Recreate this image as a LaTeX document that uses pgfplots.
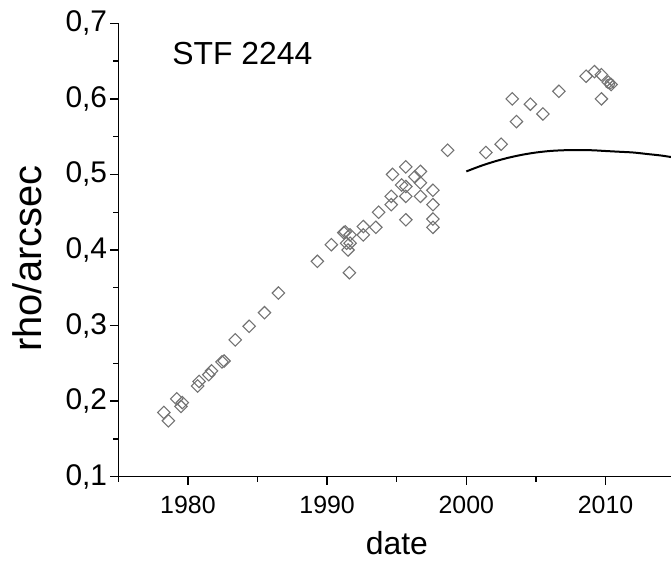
\documentclass[border=0pt]{standalone}
\usepackage{fontspec}
\setmainfont{Liberation Sans}
\usepackage{pgfplots}
\pgfplotsset{compat=1.18}
\begin{document}
\begin{tikzpicture}
\begin{axis}[
  scale only axis,
  width=552.7bp, height=453.4bp,
  xmin=1975, xmax=2014.7, ymin=0.1, ymax=0.7,
  axis x line=bottom, axis y line=left,
  axis line style={-, line width=1.3bp},
  every tick/.style={black, line width=1.3bp},
  tick align=outside,
  major tick length=8bp, minor tick length=5bp,
  xtick={1980,1990,2000,2010},
  minor xtick={1975,1985,1995,2005},
  ytick={0.1,0.2,0.3,0.4,0.5,0.6,0.7},
  minor ytick={0.15,0.25,0.35,0.45,0.55,0.65},
  /pgf/number format/assume math mode=true,
  tick label style={font=\fontsize{25}{25}\selectfont, inner sep=0pt},
  x tick label style={/pgf/number format/1000 sep={}, anchor=north, yshift=-11bp},
  yticklabels={0{,}1,0{,}2,0{,}3,0{,}4,0{,}5,0{,}6,0{,}7},
  y tick label style={font=\fontsize{30}{30}\selectfont, anchor=east, xshift=-3bp},
  xlabel={date},
  ylabel={rho/arcsec},
  xlabel style={font=\fontsize{32}{32}\selectfont, inner sep=0pt, at={(axis description cs:0.504,-0.172)}, anchor=base},
  ylabel style={font=\fontsize{40}{40}\selectfont, inner sep=0pt, at={(axis description cs:-0.138,0.481)}, anchor=south, rotate=0},
  clip=true,
]
\addplot[only marks, mark=square, mark size=4.4bp, color=black!55,
  every mark/.append style={rotate=45, line width=1.1bp}] coordinates {
(1978.27,0.185) (1978.6,0.174) (1979.2,0.203) (1979.5,0.193) (1979.6,0.198)
(1980.7,0.220) (1980.8,0.226) (1981.5,0.235) (1981.7,0.240) (1982.45,0.252) (1982.6,0.253)
(1983.4,0.281) (1984.4,0.299) (1985.5,0.317) (1986.5,0.343) (1989.3,0.385) (1990.3,0.407)
(1991.2,0.423) (1991.4,0.409) (1991.5,0.400) (1991.6,0.370) (1991.3,0.424) (1991.65,0.420) (1991.65,0.409)
(1992.6,0.431) (1992.6,0.420) (1993.5,0.430) (1993.7,0.450) (1994.6,0.460) (1994.6,0.471) (1994.7,0.500)
(1995.35,0.486) (1995.65,0.510) (1995.65,0.484) (1995.65,0.471) (1995.65,0.440)
(1996.3,0.497) (1996.7,0.504) (1996.7,0.489) (1996.7,0.471)
(1997.6,0.479) (1997.6,0.460) (1997.6,0.441) (1997.6,0.430)
(1998.65,0.532) (2001.4,0.529) (2002.5,0.540) (2003.3,0.600) (2003.6,0.570) (2004.6,0.593) (2005.5,0.580)
(2006.65,0.610) (2008.6,0.630) (2009.2,0.636) (2009.7,0.632) (2009.7,0.600) (2010.2,0.622) (2010.4,0.619)
};
\addplot[only marks, mark=otimes, mark size=5bp, color=black!55, every mark/.append style={line width=1.1bp}] coordinates {(2010.3,0.620)};
\addplot[black, line width=2bp, smooth] coordinates {
(2000,0.504) (2001,0.511) (2002,0.517) (2003,0.522) (2004,0.526) (2005,0.529) (2006,0.531) (2007,0.532)
(2008,0.532) (2009,0.532) (2010,0.531) (2011,0.530) (2012,0.529) (2013,0.527) (2014,0.525) (2014.7,0.523)
};
\node[anchor=base west, font=\fontsize{32}{32}\selectfont, inner sep=0pt] at (axis cs:1978.87,0.645) {STF 2244};
\end{axis}
\pgfresetboundingbox
\path (-118.3bp,-84.3bp) rectangle (552.7bp,476.7bp);
\end{tikzpicture}
\end{document}
